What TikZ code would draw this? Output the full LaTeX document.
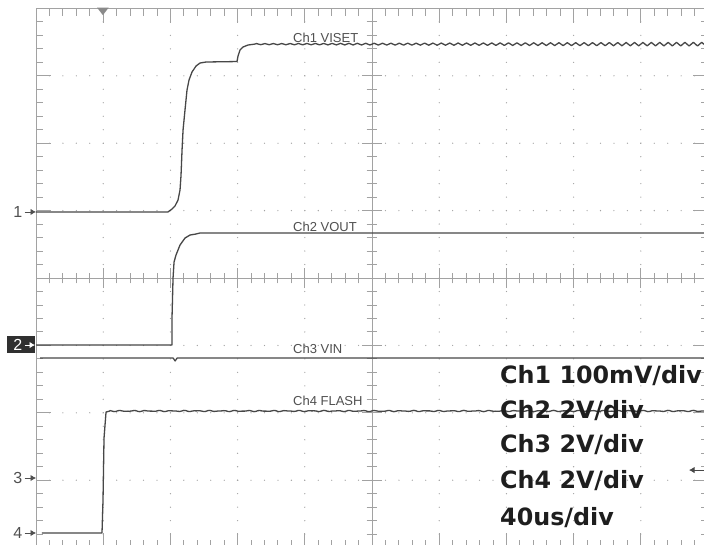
\documentclass[tikz,border=0pt]{standalone}
\usepackage{fontspec}
\usetikzlibrary{arrows.meta}
\setmainfont{Liberation Sans}
\newfontfamily\dejavu{DejaVu Sans}
\definecolor{gridgray}{HTML}{A2A2A2}
\definecolor{tracegray}{HTML}{474747}
\definecolor{textgray}{HTML}{505050}
\definecolor{boxgray}{HTML}{303030}
\definecolor{inkblack}{HTML}{1E1E1E}
\begin{document}
\begin{tikzpicture}[x=67.2pt,y=67.4pt,>={Latex[length=5.5pt,width=6.5pt]}]
\tikzset{grat/.style = {gridgray,line width=0.9pt},
  trace/.style = {tracegray,line width=1.3pt,line join=round},
  chname/.style = {textgray,font=\fontsize{13}{13}\selectfont,inner sep=0pt,anchor=base west},
  marker/.style = {textgray,font=\fontsize{16}{16}\selectfont,inner sep=0pt,anchor=east},
  setting/.style = {inkblack,font=\dejavu\bfseries\fontsize{23.8}{24}\selectfont,inner sep=0pt,anchor=base west}}
\fill[white] (-5.536,-3.947) rectangle (4.940,4.125);
\useasboundingbox (-5.536,-3.947) rectangle (4.940,4.125);
\clip (-5.536,-3.947) rectangle (4.940,4.125);
% dotted graticule
\foreach \i in {-4,...,-1,1,2,3,4}
  \foreach \j in {-19,...,19} \fill[gridgray] (\i,\j/5) circle (0.65pt);
\foreach \j in {-3,...,-1,1,2,3}
  \foreach \i in {-24,...,24} \fill[gridgray] (\i/5,\j) circle (0.65pt);
% centre axes
\draw[grat] (-5,0) -- (5,0);
\draw[grat] (0,-4) -- (0,4);
\foreach \k in {-24,...,24} \draw[grat] (\k/5,-0.08) -- (\k/5,0.08);
\foreach \k in {-5,...,5} \draw[grat] (\k,-0.15) -- (\k,0.15);
\foreach \k in {-19,...,19} \draw[grat] (-0.08,\k/5) -- (0.08,\k/5);
\foreach \k in {-4,...,4} \draw[grat] (-0.15,\k) -- (0.15,\k);
% border
\draw[grat] (-5,-4) rectangle (5,4);
\foreach \k in {-24,...,24} {
  \draw[grat] (\k/5,4) -- ++(0,-0.11);
  \draw[grat] (\k/5,-4) -- ++(0,0.11);}
\foreach \k in {-4,...,4} {
  \draw[grat] (\k,4) -- ++(0,-0.22);
  \draw[grat] (\k,-4) -- ++(0,0.22);}
\foreach \k in {-19,...,19} {
  \draw[grat] (-5,\k/5) -- ++(0.105,0);
  \draw[grat] (5,\k/5) -- ++(-0.105,0);}
\foreach \k in {-3,...,3} {
  \draw[grat] (-5,\k) -- ++(0.22,0);
  \draw[grat] (5,\k) -- ++(-0.22,0);}
\fill[gridgray!85!black] (-4.09,4.01) -- (-3.92,4.01) -- (-4.005,3.9) -- cycle;
% traces
\draw[trace] (-5,0.98) -- (-3.036,0.98) -- (-2.976,1.024) -- (-2.932,1.068)
  -- (-2.887,1.157) -- (-2.857,1.306) -- (-2.842,1.528) -- (-2.827,1.899)
  -- (-2.812,2.196) -- (-2.783,2.493) -- (-2.753,2.789) -- (-2.723,2.938)
  -- (-2.679,3.056) -- (-2.619,3.145) -- (-2.56,3.19) -- (-2.47,3.205)
  -- (-2.009,3.212) -- (-1.994,3.294) -- (-1.964,3.383) -- (-1.92,3.427)
  -- (-1.845,3.457) -- (-1.75,3.47)
  -- plot[domain=-1.75:5,samples=217] (\x,{3.47+(0.008+0.02*(\x+1.75)/6.75)*sin(\x*2880)});
\draw[trace] (-5,-0.994) -- (-2.976,-0.994) -- (-2.976,-0.579) -- (-2.961,0)
  -- (-2.946,0.237) -- (-2.917,0.341) -- (-2.857,0.49) -- (-2.783,0.593)
  -- (-2.708,0.638) -- (-2.619,0.653) -- (-2.56,0.668) -- (5,0.668);
\draw[trace] (-4.94,-1.187) -- (-2.96,-1.187) -- (-2.93,-1.23) -- (-2.9,-1.187) -- (5,-1.187);
\draw[trace] (-4.911,-3.783) -- (-4.018,-3.783) -- (-4.003,-3.294) -- (-3.988,-2.374)
  -- (-3.958,-1.988) -- (-3.9,-1.973)
  -- plot[domain=-3.9:5,samples=300] (\x,{-1.973+0.006*sin(\x*1900)+0.004*sin(\x*2950+40)});
% channel names
\node[chname] (n1) at (-1.176,3.501) {Ch1 VISET};
\node[chname] (n2) at (-1.176,0.697) {Ch2 VOUT};
\node[chname] (n3) at (-1.176,-1.113) {Ch3 VIN};
\node[chname] (n4) at (-1.176,-1.892) {Ch4 FLASH};
% ground markers
\coordinate (g1) at (-5,0.98);
\coordinate (g2) at (-5,-0.994);
\coordinate (g3) at (-5,-2.967);
\coordinate (g4) at (-5,-3.783);
\node[fill=boxgray,minimum width=28pt,minimum height=17pt,inner sep=0pt] (b2) at (-5.223,-0.987) {};
\node[marker] (m1) at (-5.2,0.98) {1};
\node[marker,white] (m2) at (-5.2,-0.994) {2};
\node[marker] (m3) at (-5.2,-2.967) {3};
\node[marker] (m4) at (-5.2,-3.783) {4};
\draw[->,textgray,line width=0.9pt,shorten <=2pt] (m1) -- (g1);
\draw[->,white,line width=0.9pt,shorten <=2pt,shorten >=1pt] (m2) -- (g2);
\draw[->,textgray,line width=0.9pt,shorten <=2pt] (m3) -- (g3);
\draw[->,textgray,line width=0.9pt,shorten <=2pt] (m4) -- (g4);
% trigger level
\coordinate (t0) at (4.96,-2.849);
\coordinate (t1) at (4.717,-2.849);
\draw[->,tracegray,line width=1pt] (t0) -- (t1);
% settings
\node[setting] (s1) at (1.905,-1.558) {Ch1 100mV/div};
\node[setting] (s2) at (1.905,-2.077) {Ch2 2V/div};
\node[setting] (s3) at (1.905,-2.582) {Ch3 2V/div};
\node[setting] (s4) at (1.905,-3.116) {Ch4 2V/div};
\node[setting] (s5) at (1.905,-3.665) {40us/div};
\end{tikzpicture}
\end{document}
